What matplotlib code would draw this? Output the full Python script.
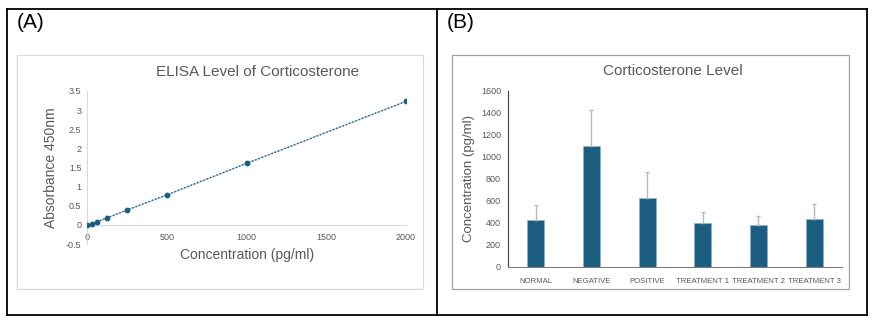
import matplotlib
matplotlib.use("Agg")
import matplotlib.pyplot as plt
from matplotlib.patches import Rectangle
from matplotlib.lines import Line2D
import numpy as np

plt.rcParams['font.family'] = ['Liberation Sans', 'DejaVu Sans']

# standard curve (A)
conc = [0, 31.25, 62.5, 125, 250, 500, 1000, 2000]
absorb = [0.0, 0.02, 0.08, 0.18, 0.39, 0.77, 1.61, 3.23]

# bar chart (B)
groups = ["NORMAL", "NEGATIVE", "POSITIVE", "TREATMENT 1", "TREATMENT 2", "TREATMENT 3"]
level = [430, 1100, 630, 398, 378, 438]
level_err = [134, 330, 234, 102, 86, 138]

W, H = 875, 324
fig = plt.figure(figsize=(W / 100, H / 100), dpi=100)


def fx(px):
    return px / W


def fy(py):
    return 1 - py / H


# outer table frame
frame = dict(color="black", lw=1.3, transform=fig.transFigure)
fig.add_artist(Line2D([fx(6.5), fx(867)], [fy(8.5), fy(8.5)], **frame))
fig.add_artist(Line2D([fx(6.5), fx(867)], [fy(315), fy(315)], **frame))
fig.add_artist(Line2D([fx(6.5), fx(6.5)], [fy(8.5), fy(315)], **frame))
fig.add_artist(Line2D([fx(867), fx(867)], [fy(8.5), fy(315)], **frame))
fig.add_artist(Line2D([fx(437), fx(437)], [fy(8.5), fy(315)], **frame))

# inner chart boxes
fig.add_artist(Rectangle((fx(17), fy(289)), fx(406), (289 - 55) / H,
                         transform=fig.transFigure, fill=False, ec="#d9d9d9", lw=0.9))
fig.add_artist(Rectangle((fx(452), fy(289)), fx(397), (289 - 55) / H,
                         transform=fig.transFigure, fill=False, ec="#a0a0a0", lw=0.9))

fig.text(fx(17), fy(23), "(A)", fontsize=15, va="center", ha="left")
fig.text(fx(447), fy(23), "(B)", fontsize=15, va="center", ha="left")

grey = "#595959"
blue = "#1b5e82"

# ---- panel A ----
ax1 = fig.add_axes([fx(87), fy(244), (406 - 87) / W, (244 - 91) / H])
ax1.plot(conc, absorb, color="#a9c6da", lw=0.9, zorder=2)
m, b = np.polyfit(conc, absorb, 1)
fit_x = np.array([conc[0], conc[-1]])
ax1.plot(fit_x, m * fit_x + b, color=blue, lw=1.0, ls=(0, (1, 1.5)), zorder=3)
ax1.scatter(conc, absorb, s=10, color=blue, zorder=4)
ax1.set_xlim(0, 2000)
ax1.set_ylim(-0.5, 3.5)
ax1.set_xticks([0, 500, 1000, 1500, 2000])
ax1.set_yticks(np.arange(-0.5, 3.6, 0.5))
ax1.set_yticklabels(["-0.5", "0", "0.5", "1", "1.5", "2", "2.5", "3", "3.5"])
for s in ["top", "right"]:
    ax1.spines[s].set_visible(False)
ax1.spines["bottom"].set_position(("data", 0))
ax1.spines["bottom"].set_color("#d9d9d9")
ax1.spines["left"].set_color("#d9d9d9")
ax1.tick_params(length=0, labelsize=6.5, labelcolor=grey, pad=4)
ax1.tick_params(axis="x", pad=6)
fig.text(fx(258), fy(72), "ELISA Level of Corticosterone", fontsize=11,
         color=grey, ha="center", va="center")
fig.text(fx(247), fy(255), "Concentration (pg/ml)", fontsize=10,
         color=grey, ha="center", va="center")
fig.text(fx(51), fy(168), "Absorbance 450nm", fontsize=10, color=grey,
         ha="center", va="center", rotation=90)

# ---- panel B ----
ax2 = fig.add_axes([fx(508), fy(267), (842 - 508) / W, (267 - 91) / H])
xpos = np.arange(len(groups))
ax2.bar(xpos, level, width=0.31, color=blue, edgecolor="#8fb3cc", lw=0.5, zorder=2)
ax2.errorbar(xpos, level, yerr=[[0] * len(level), level_err], fmt="none",
             ecolor="#b8b8b8", elinewidth=1.0, capsize=1.5, capthick=1.0, zorder=3)
ax2.set_xlim(-0.5, len(groups) - 0.5)
ax2.set_ylim(0, 1600)
ax2.set_yticks(range(0, 1601, 200))
ax2.set_xticks(xpos)
ax2.set_xticklabels(groups, fontsize=5.6)
for s in ["top", "right"]:
    ax2.spines[s].set_visible(False)
ax2.spines["bottom"].set_color("#7f7f7f")
ax2.spines["left"].set_color("#404040")
ax2.tick_params(axis="y", length=0, labelsize=6.5, labelcolor=grey, pad=5)
ax2.tick_params(axis="x", length=0, labelcolor=grey, pad=8)
fig.text(fx(673), fy(71), "Corticosterone Level", fontsize=11,
         color=grey, ha="center", va="center")
fig.text(fx(469), fy(178), "Concentration (pg/ml)", fontsize=9.5, color=grey,
         ha="center", va="center", rotation=90)

fig.savefig("out.png", dpi=100)
